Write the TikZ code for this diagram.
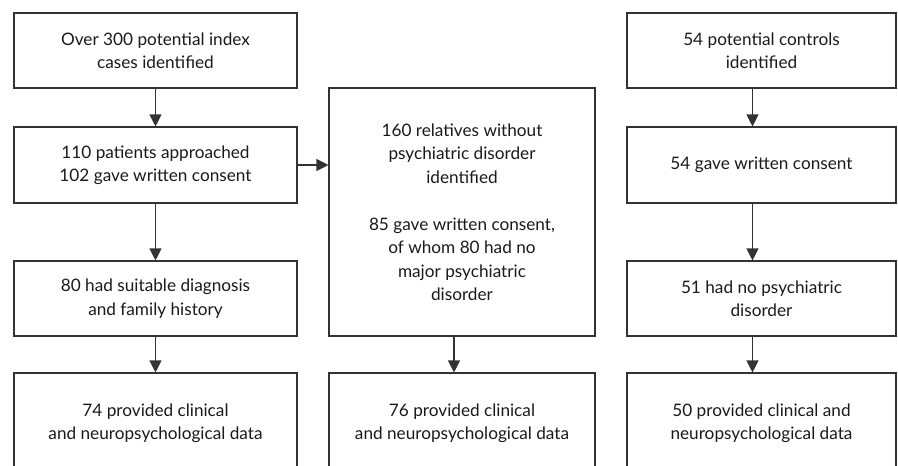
\documentclass[tikz,border=0pt]{standalone}
\usepackage{fontspec}
\setmainfont{Lato}
\usepackage{tikz}
\usetikzlibrary{arrows.meta,positioning}
\definecolor{flowline}{HTML}{333333}
\definecolor{flowtext}{HTML}{1A1A1A}

\begin{document}
\begin{tikzpicture}[
    x=1pt, y=-1pt,
    box/.style={rectangle, draw=flowline, line width=1.1pt, inner sep=0pt, align=center, text=flowtext, font=\fontsize{17.2}{23.5}\selectfont},
    leftbox/.style={box, minimum width=283pt},
    midbox/.style={box, minimum width=266pt},
    rightbox/.style={box, minimum width=269pt},
    arrow/.style={-{Triangle[width=12pt,length=12pt]}, draw=flowline, line width=1.1pt}
  ]
    \useasboundingbox (0,0) rectangle (898,466);
    \clip (0,0) rectangle (898,466);

    % Left column: index cases
    \node[leftbox, minimum height=75pt] (idx1) at (155.5, 50.5) {Over 300 potential index\\cases identified};
    \node[leftbox, minimum height=76pt] (idx2) at (155.5, 165) {110 patients approached\\102 gave written consent};
    \node[leftbox, minimum height=75pt] (idx3) at (155.5, 298.5) {80 had suitable diagnosis\\and family history};
    \node[leftbox, minimum height=100pt] (idx4) at (155.5, 423) {74 provided clinical\\and neuropsychological data};
    \draw[arrow] (idx1) -- (idx2);
    \draw[arrow] (idx2) -- (idx3);
    \draw[arrow] (idx3) -- (idx4);

    % Middle column: relatives
    \node[midbox, minimum height=248pt] (rel1) at (462, 212) {160 relatives without\\psychiatric disorder\\identified\\[23.5pt]85 gave written consent,\\of whom 80 had no\\major psychiatric\\disorder};
    \node[midbox, minimum height=100pt] (rel2) at (462, 423) {76 provided clinical\\and neuropsychological data};
    \draw[arrow] (idx2.east) -- (idx2.east -| rel1.west);
    \draw[arrow] ([xshift=-8pt]rel1.south) -- ([xshift=-8pt]rel2.north);

    % Right column: controls
    \node[rightbox, minimum height=75pt] (ctl1) at (761.5, 50.5) {54 potential controls\\identified};
    \node[rightbox, minimum height=76pt] (ctl2) at (761.5, 165) {54 gave written consent};
    \node[rightbox, minimum height=75pt] (ctl3) at (761.5, 298.5) {51 had no psychiatric\\disorder};
    \node[rightbox, minimum height=100pt] (ctl4) at (761.5, 423) {50 provided clinical and\\neuropsychological data};
    \draw[arrow] ([xshift=-9pt]ctl1.south) -- ([xshift=-9pt]ctl2.north);
    \draw[arrow] ([xshift=-9pt]ctl2.south) -- ([xshift=-9pt]ctl3.north);
    \draw[arrow] ([xshift=-9pt]ctl3.south) -- ([xshift=-9pt]ctl4.north);
  \end{tikzpicture}
\end{document}
